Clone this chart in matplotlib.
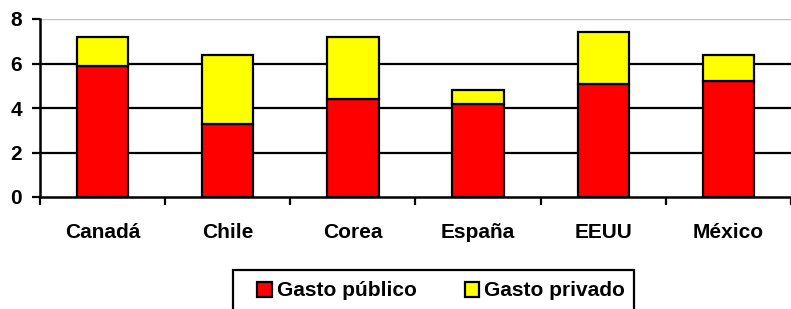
import matplotlib
matplotlib.use("Agg")
import matplotlib.pyplot as plt
from matplotlib.patches import Rectangle
import numpy as np

categories = ["Canadá", "Chile", "Corea", "España", "EEUU", "México"]
publico = [5.9, 3.3, 4.4, 4.2, 5.1, 5.2]
privado_total = [7.2, 6.4, 7.2, 4.8, 7.4, 6.4]
privado = [t - p for t, p in zip(privado_total, publico)]
yticks = [0, 2, 4, 6, 8]

plt.rcParams['font.family'] = ['Liberation Sans', 'DejaVu Sans']
plt.rcParams['font.weight'] = 'bold'
FS = 15
W, H = 791, 309

fig = plt.figure(figsize=(W/100, H/100), dpi=100)
ax = fig.add_axes([40/W, 1-197/H, 1-40/W, (197-19)/H])

x = np.arange(len(categories))
w = 0.41
ax.bar(x, publico, w, color='#FF0000', edgecolor='black', linewidth=1.6, label='Gasto público', zorder=3)
ax.bar(x, privado, w, bottom=publico, color='#FFFF00', edgecolor='black', linewidth=1.6, label='Gasto privado', zorder=3)

ax.set_xlim(-0.5, len(categories) - 0.5)
ax.set_ylim(0, 8)
ax.set_yticks(yticks)
ax.set_yticklabels([str(v) for v in yticks], fontsize=FS, fontweight='bold')
for v in yticks[1:-1]:
    ax.axhline(v, color='black', linewidth=1.6, zorder=1)
ax.axhline(8, color='#C0C0C0', linewidth=1.0, zorder=1)

ax.set_xticks(x)
ax.set_xticklabels(categories, fontsize=FS, fontweight='bold')
ax.tick_params(axis='x', which='major', length=0, pad=19)
ax.set_xticks(np.arange(len(categories) + 1) - 0.5, minor=True)
ax.tick_params(axis='x', which='minor', length=6, width=1.6, direction='out')
ax.tick_params(axis='y', length=6, width=1.6, direction='out', pad=7)

for s in ['top', 'right']:
    ax.spines[s].set_visible(False)
ax.spines['left'].set_linewidth(1.8)
ax.spines['bottom'].set_linewidth(1.8)
ax.spines['left'].set_zorder(4)
ax.spines['bottom'].set_zorder(4)

# legend frame
fig.patches.append(Rectangle((233/W, -0.05), (634-233)/W, 0.05 + 1-270/H,
                             transform=fig.transFigure, facecolor='white',
                             edgecolor='black', linewidth=1.6, zorder=0))

leg = fig.legend(loc='center left', bbox_to_anchor=(257/W, 1-291/H), ncol=2,
                 prop={'size': FS, 'weight': 'bold'}, frameon=False,
                 handlelength=0.7, handleheight=0.7, handletextpad=0.25,
                 columnspacing=2.3, borderpad=0, borderaxespad=0)

fig.savefig("out.png", dpi=100)
